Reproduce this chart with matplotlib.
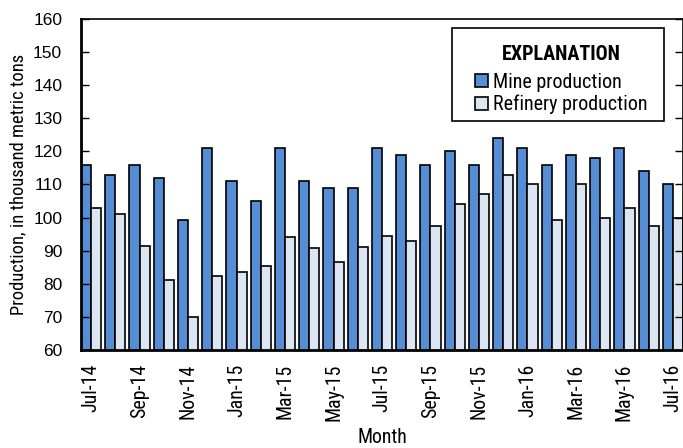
import numpy as np
import matplotlib.pyplot as plt
from matplotlib.patches import Rectangle

plt.rcParams['font.family'] = ['Roboto Condensed', 'Liberation Sans', 'DejaVu Sans']

months = ['Jul-14', 'Aug-14', 'Sep-14', 'Oct-14', 'Nov-14', 'Dec-14',
          'Jan-15', 'Feb-15', 'Mar-15', 'Apr-15', 'May-15', 'Jun-15',
          'Jul-15', 'Aug-15', 'Sep-15', 'Oct-15', 'Nov-15', 'Dec-15',
          'Jan-16', 'Feb-16', 'Mar-16', 'Apr-16', 'May-16', 'Jun-16', 'Jul-16']
mine = [116, 113, 116, 112, 99.2, 121, 111, 105, 121, 111, 109, 109,
        121, 119, 116, 120, 116, 124, 121, 116, 119, 118, 121, 114, 110]
refinery = [103, 101, 91.5, 81, 70, 82.3, 83.7, 85.5, 94, 90.7, 86.7, 91,
            94.4, 93, 97.6, 104.2, 107, 113, 110, 99.3, 110, 100, 103, 97.6, 100]

x = np.arange(len(months))
w = 0.415

fig = plt.figure(figsize=(6.83, 4.48), dpi=100)
ax = fig.add_axes([81/683, 1 - 350/448, 602/683, 331/448])

ax.bar(x - w/2, mine, w, color='#558ED5', edgecolor='black', linewidth=1.2,
       label='Mine production')
ax.bar(x + w/2, refinery, w, color='#DCE6F2', edgecolor='black', linewidth=1.2,
       label='Refinery production')

ax.set_ylim(60, 160)
ax.set_xlim(-0.415, len(months) - 1 + 0.415)
ax.set_yticks(np.arange(60, 161, 10))
ax.tick_params(axis='y', direction='in', length=6, width=1, right=True, pad=13.5)
for t in ax.get_yticklabels():
    t.set_fontfamily('Liberation Sans')
    t.set_fontsize(12.5)
ax.set_xticks(x[::2])
ax.set_xticklabels(months[::2], rotation=90, fontsize=14.3)
ax.tick_params(axis='x', length=0, pad=10)

for s in ['left', 'bottom']:
    ax.spines[s].set_linewidth(2)
ax.spines['top'].set_linewidth(1.2)
ax.spines['right'].set_linewidth(1.2)

ax.set_ylabel('Production, in thousand metric tons', fontsize=13.3, labelpad=4)
ax.set_xlabel('Month', fontsize=14.3, labelpad=5)

# legend box drawn separately so the padding can match
ax.add_patch(Rectangle((0.6163, 0.6918), 0.3521, 0.281, transform=ax.transAxes,
                       facecolor='white', edgecolor='black', linewidth=1.2, zorder=4))
leg = ax.legend(title='EXPLANATION', loc='upper center', bbox_to_anchor=(0.7985, 0.953),
                frameon=False, fontsize=14.5, title_fontsize=14.5,
                handlelength=0.64, handleheight=0.64, handletextpad=0.25,
                borderpad=0, labelspacing=0.16)
leg.set_zorder(5)
leg.get_title().set_fontweight('bold')
leg._legend_box.sep = 6.5

fig.savefig('out.png', dpi=100)
